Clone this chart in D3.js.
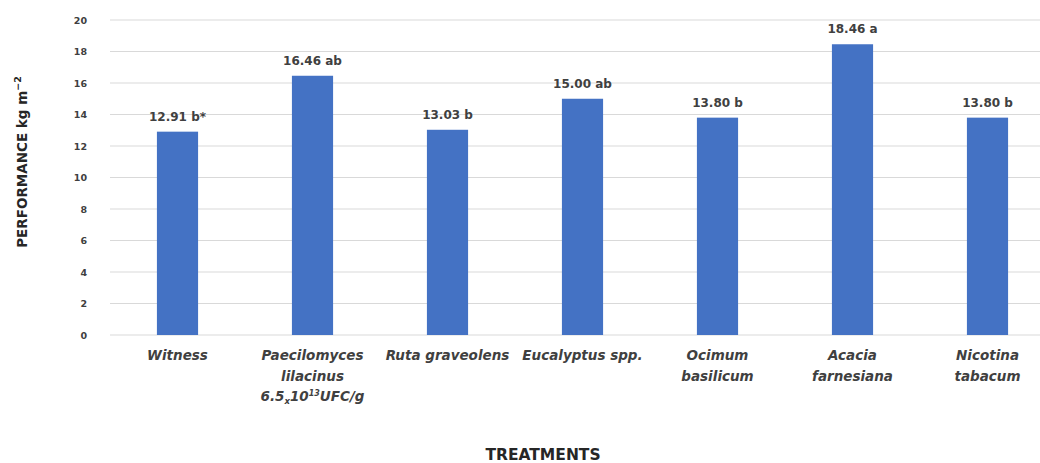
<!DOCTYPE html>
<html><head><meta charset="utf-8">
<script src="https://cdn.jsdelivr.net/npm/d3@7"></script>
<style>body{margin:0;background:#fff}svg{display:block}</style>
</head><body>
<script>
const categories = [
  ["Witness"],
  ["Paecilomyces", "lilacinus", "__UFC__"],
  ["Ruta graveolens"],
  ["Eucalyptus spp."],
  ["Ocimum", "basilicum"],
  ["Acacia", "farnesiana"],
  ["Nicotina", "tabacum"]
];
const values = [12.91, 16.46, 13.03, 15.00, 13.80, 18.46, 13.80];
const valueLabels = ["12.91 b*", "16.46 ab", "13.03 b", "15.00 ab", "13.80 b", "18.46 a", "13.80 b"];
const yTicks = [0, 2, 4, 6, 8, 10, 12, 14, 16, 18, 20];

const W = 1040, H = 463;
const svg = d3.select("body").append("svg").attr("width", W).attr("height", H)
  .style("font-family", "'DejaVu Sans', sans-serif");

const x = d3.scaleBand().domain(d3.range(categories.length)).range([110, 1055]).padding(0);
const y = d3.scaleLinear().domain([0, 20]).range([335, 20]);
const barW = x.bandwidth() * 0.305;

// gridlines
svg.append("g").selectAll("line").data(yTicks).join("line")
  .attr("x1", 110).attr("x2", 1055)
  .attr("y1", d => y(d)).attr("y2", d => y(d))
  .attr("stroke", "#d9d9d9").attr("stroke-width", 1);

// y axis tick labels
const yAxis = d3.axisLeft(y).tickValues(yTicks).tickSize(0).tickPadding(0);
const gy = svg.append("g").attr("transform", "translate(87,0)").call(yAxis);
gy.select(".domain").remove();
gy.selectAll("text").attr("font-size", 9.5).attr("font-weight", "bold").attr("fill", "#404040")
  .attr("font-family", "'DejaVu Sans', sans-serif");

// bars
svg.append("g").selectAll("rect").data(values).join("rect")
  .attr("x", (d, i) => x(i) + x.bandwidth() / 2 - barW / 2)
  .attr("width", barW)
  .attr("y", d => y(d))
  .attr("height", d => y(0) - y(d))
  .attr("fill", "#4472C4");

// value labels
svg.append("g").selectAll("text").data(values).join("text")
  .attr("x", (d, i) => x(i) + x.bandwidth() / 2)
  .attr("y", d => y(d) - 11)
  .attr("text-anchor", "middle")
  .attr("font-size", 12).attr("font-weight", "bold").attr("fill", "#404040")
  .text((d, i) => valueLabels[i]);

// category labels
const cat = svg.append("g").selectAll("text").data(categories).join("text")
  .attr("x", (d, i) => x(i) + x.bandwidth() / 2)
  .attr("y", 360)
  .attr("text-anchor", "middle")
  .attr("font-size", 13.5).attr("font-weight", "bold").attr("font-style", "italic").attr("fill", "#404040");
cat.each(function(lines, i) {
  const t = d3.select(this);
  const cx = x(i) + x.bandwidth() / 2;
  lines.forEach((ln, j) => {
    if (ln === "__UFC__") {
      const ts = t.append("tspan").attr("x", cx).attr("dy", j === 0 ? 0 : 20.5);
      ts.text("6.5");
      t.append("tspan").attr("font-size", 8.5).attr("dy", 3).text("x");
      t.append("tspan").attr("dy", -3).text("10");
      t.append("tspan").attr("font-size", 8).attr("dy", -5).text("13");
      t.append("tspan").attr("dy", 5).text("UFC/g");
    } else {
      t.append("tspan").attr("x", cx).attr("dy", j === 0 ? 0 : 20.5).text(ln);
    }
  });
});

// y axis title
const yt = svg.append("text")
  .attr("transform", "translate(27,162) rotate(-90)")
  .attr("text-anchor", "middle")
  .attr("font-size", 13.5).attr("font-weight", "bold").attr("fill", "#262626");
yt.append("tspan").text("PERFORMANCE kg m");
yt.append("tspan").attr("font-size", 9.5).attr("dy", -6).text("−2");

// x axis title
svg.append("text").attr("x", 543).attr("y", 460).attr("text-anchor", "middle")
  .attr("font-size", 15.5).attr("font-weight", "bold").attr("fill", "#262626")
  .text("TREATMENTS");
</script>
</body></html>
